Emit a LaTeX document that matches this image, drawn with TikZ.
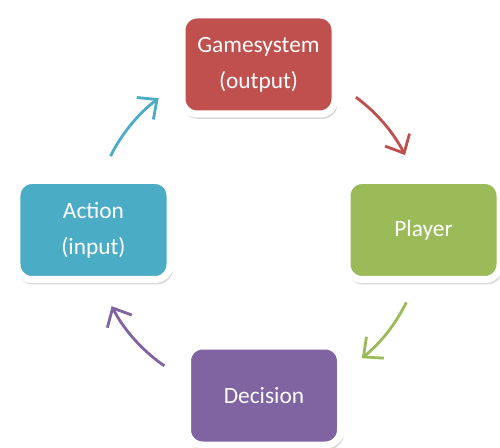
\documentclass[tikz,border=0pt]{standalone}
\usepackage{fontspec}
\setmainfont{Carlito}
\usepackage{tikz}
\usetikzlibrary{arrows.meta,shadows}
\definecolor{gsred}{HTML}{C0504D}
\definecolor{plgreen}{HTML}{9BBB59}
\definecolor{dcpurple}{HTML}{8064A2}
\definecolor{acblue}{HTML}{4BACC6}

\begin{document}
\begin{tikzpicture}[>={Straight Barb[length=3mm,width=5.5mm]},
every node/.style={font=\fontsize{13.3}{20.5}\selectfont},
box/.style={draw=white,line width=1.4mm,rounded corners=3mm,text=white,align=center,
  minimum width=30.6mm,minimum height=19.8mm,
  drop shadow={opacity=0.3,shadow scale=1.015,shadow xshift=0.3mm,shadow yshift=-0.8mm}},
loop/.style={->,line width=1.6pt}]
\useasboundingbox (-5.16,-4.36) rectangle (4.84,4.6);
\node[box,fill=gsred] (gs) at (0.01,3.31) {Gamesystem\\(output)};
\node[box,fill=plgreen] (pl) at (3.31,0) {Player};
\node[box,fill=dcpurple] (dc) at (0.12,-3.31) {Decision};
\node[box,fill=acblue] (ac) at (-3.29,0) {Action\\(input)};
\draw[loop,gsred] (53.6:3.3) arc[start angle=53.6,end angle=27,radius=3.3];
\draw[loop,plgreen] (-26:3.3) arc[start angle=-26,end angle=-51,radius=3.3];
\draw[loop,dcpurple] (235.4:3.3) arc[start angle=235.4,end angle=207.5,radius=3.3];
\draw[loop,acblue] (153.4:3.3) arc[start angle=153.4,end angle=127,radius=3.3];
\end{tikzpicture}
\end{document}
